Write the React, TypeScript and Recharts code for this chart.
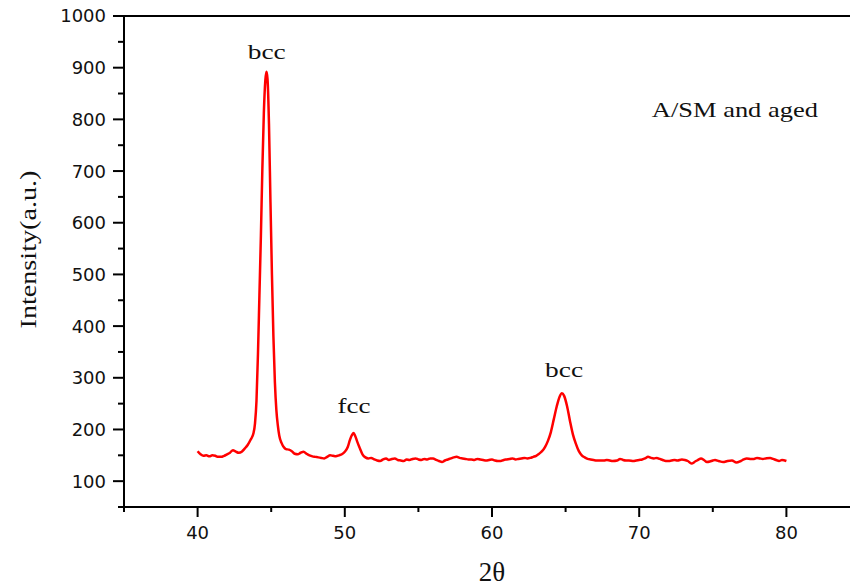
import {
  LineChart,
  Line,
  XAxis,
  YAxis,
  ReferenceLine,
  ReferenceDot,
} from "recharts";

// 2θ positions (deg), finer around the peaks
const twoTheta = [
  40.0, 40.2, 40.4, 40.6, 40.8, 41.0, 41.2, 41.4, 41.6, 41.8,
  42.0, 42.2, 42.4, 42.6, 42.8, 43.0, 43.2, 43.4, 43.6, 43.8,
  43.9, 44.0, 44.1, 44.2, 44.3, 44.4, 44.5, 44.6, 44.68, 44.75,
  44.85, 44.95, 45.05, 45.15, 45.25, 45.35, 45.45, 45.55, 45.7, 45.85,
  46.0, 46.2, 46.4, 46.6, 46.8, 47.0, 47.2, 47.4, 47.6, 47.8,
  48.0, 48.2, 48.4, 48.6, 48.8, 49.0, 49.2, 49.4, 49.6, 49.8,
  50.0, 50.2, 50.35, 50.5, 50.6, 50.7, 50.85, 51.0, 51.2, 51.4,
  51.6, 51.8, 52.0, 52.2, 52.4, 52.6, 52.8, 53.0, 53.2, 53.4,
  53.6, 53.8, 54.0, 54.2, 54.4, 54.6, 54.8, 55.0, 55.2, 55.4,
  55.6, 55.8, 56.0, 56.2, 56.4, 56.6, 56.8, 57.0, 57.2, 57.4,
  57.6, 57.8, 58.0, 58.2, 58.4, 58.6, 58.8, 59.0, 59.2, 59.4,
  59.6, 59.8, 60.0, 60.2, 60.4, 60.6, 60.8, 61.0, 61.2, 61.4,
  61.6, 61.8, 62.0, 62.2, 62.4, 62.6, 62.8, 63.0, 63.2, 63.4,
  63.6, 63.8, 64.0, 64.2, 64.4, 64.6, 64.75, 64.9, 65.1, 65.3,
  65.5, 65.7, 65.9, 66.1, 66.3, 66.5, 66.7, 66.9, 67.1, 67.3,
  67.6, 67.8, 68.0, 68.2, 68.5, 68.7, 68.9, 69.1, 69.3, 69.6,
  69.8, 70.0, 70.2, 70.4, 70.6, 70.8, 71.0, 71.2, 71.4, 71.6,
  71.8, 72.0, 72.2, 72.4, 72.6, 72.9, 73.1, 73.3, 73.55, 73.8,
  74.0, 74.2, 74.4, 74.6, 74.8, 75.0, 75.15, 75.4, 75.7, 76.0,
  76.3, 76.6, 76.9, 77.1, 77.3, 77.6, 77.8, 78.0, 78.2, 78.4,
  78.6, 78.9, 79.1, 79.3, 79.5, 79.7, 80.0,
];

const intensity = [
  158, 152, 149, 150, 148, 150, 149, 147, 147, 149,
  152, 155, 160, 157, 155, 157, 163, 170, 180, 193,
  212, 255, 345, 460, 575, 705, 812, 875, 892, 878,
  790, 640, 500, 380, 292, 238, 208, 188, 174, 166,
  162, 161, 158, 153, 152, 155, 157, 153, 150, 148,
  147, 146, 145, 144, 147, 150, 149, 148, 150, 152,
  157, 166, 180, 190, 193, 188, 176, 165, 152, 146,
  144, 145, 142, 140, 139, 142, 144, 141, 143, 144,
  141, 140, 139, 142, 141, 143, 144, 142, 141, 143,
  142, 144, 144, 141, 139, 137, 140, 142, 144, 146,
  147, 145, 144, 143, 142, 142, 141, 143, 142, 141,
  140, 141, 142, 140, 139, 139, 141, 142, 143, 144,
  142, 143, 144, 145, 144, 145, 147, 149, 153, 158,
  166, 178, 195, 220, 245, 264, 270, 265, 245, 216,
  190, 172, 158, 150, 146, 143, 142, 141, 140, 140,
  140, 141, 140, 139, 140, 143, 141, 140, 140, 139,
  140, 141, 142, 144, 147, 145, 144, 145, 143, 141,
  139, 139, 140, 141, 140, 142, 141, 139, 134, 138,
  141, 144, 141, 137, 138, 140, 141, 139, 137, 139,
  140, 136, 139, 142, 144, 143, 143, 145, 144, 143,
  144, 145, 143, 141, 139, 141, 139,
];

const xTicks = [35, 40, 45, 50, 55, 60, 65, 70, 75, 80, 85];
const yTicks = [50, 100, 150, 200, 250, 300, 350, 400, 450, 500, 550, 600, 650, 700, 750, 800, 850, 900, 950, 1000];

const peakLabels = ["bcc", "fcc", "bcc"];
const peakX = [44.7, 50.63, 64.9];
const peakY = [917, 232, 301];

const data = twoTheta.map((t, i) => ({ t, v: intensity[i] }));

const serif = "'Liberation Serif', 'Times New Roman', serif";
const sans = "'DejaVu Sans', Verdana, sans-serif";

const YTick = (props: any) => {
  const { x, y, payload } = props;
  const major = payload.value % 100 === 0;
  return (
    <g>
      <line x1={x} x2={x - (major ? 11 : 6)} y1={y} y2={y} stroke="#000" strokeWidth={2} />
      {major && (
        <text x={x - 18} y={y} dy="0.36em" textAnchor="end" fontFamily={sans} fontSize={18} fill="#111">
          {payload.value}
        </text>
      )}
    </g>
  );
};

const XTick = (props: any) => {
  const { x, y, payload } = props;
  const major = payload.value % 10 === 0;
  const labelled = major && payload.value >= 40 && payload.value <= 80;
  return (
    <g>
      <line x1={x} x2={x} y1={y} y2={y + (major ? 10 : 5)} stroke="#000" strokeWidth={2} />
      {labelled && (
        <text x={x} y={y + 32} textAnchor="middle" fontFamily={sans} fontSize={18} fill="#111">
          {payload.value}
        </text>
      )}
    </g>
  );
};

const stretched = (text: string, len: number) => (p: any) => (
  <text
    x={p.cx}
    y={p.cy}
    textAnchor="middle"
    fontFamily={serif}
    fontSize={21}
    fill="#111"
    textLength={len}
    lengthAdjust="spacingAndGlyphs"
  >
    {text}
  </text>
);

const peakWidths = [38, 33, 38];

export default function App() {
  return (
    <div
      style={{
        position: "fixed",
        left: 0,
        top: 0,
        width: 850,
        height: 586,
        overflow: "hidden",
        background: "white",
      }}
    >
      <LineChart
        width={880}
        height={586}
        data={data}
        margin={{ top: 16, right: 20, left: 0, bottom: 0 }}
      >
        <XAxis
          dataKey="t"
          type="number"
          domain={[35, 85]}
          ticks={xTicks}
          interval={0}
          tickSize={0}
          tickMargin={0}
          tickLine={false}
          tick={<XTick />}
          height={79}
          axisLine={{ stroke: "#000", strokeWidth: 2 }}
          label={{
            content: (p: any) => (
              <text
                x={p.viewBox.x + p.viewBox.width / 2}
                y={p.viewBox.y + 74}
                textAnchor="middle"
                fontFamily={serif}
                fontSize={27}
                fill="#111"
              >
                2θ
              </text>
            ),
          }}
        />
        <YAxis
          type="number"
          domain={[50, 1000]}
          ticks={yTicks}
          interval={0}
          allowDataOverflow
          width={124}
          tickSize={0}
          tickMargin={0}
          tickLine={false}
          tick={<YTick />}
          axisLine={{ stroke: "#000", strokeWidth: 2 }}
          label={{
            content: (p: any) => (
              <text
                transform={`translate(28, ${p.viewBox.y + p.viewBox.height / 2 - 12}) rotate(-90)`}
                textAnchor="middle"
                dominantBaseline="central"
                fontFamily={serif}
                fontSize={23}
                fill="#111"
                textLength={158}
                lengthAdjust="spacingAndGlyphs"
              >
                Intensity(a.u.)
              </text>
            ),
          }}
        />
        <ReferenceLine y={1000} stroke="#000" strokeWidth={2} />
        <Line
          type="monotone"
          dataKey="v"
          stroke="#ff0000"
          strokeWidth={2.5}
          dot={false}
          isAnimationActive={false}
        />
        {peakLabels.map((label, i) => (
          <ReferenceDot
            key={i}
            x={peakX[i]}
            y={peakY[i]}
            r={0}
            shape={stretched(label, peakWidths[i])}
          />
        ))}
        <ReferenceDot x={76.5} y={804} r={0} shape={stretched("A/SM and aged", 166)} />
      </LineChart>
    </div>
  );
}
